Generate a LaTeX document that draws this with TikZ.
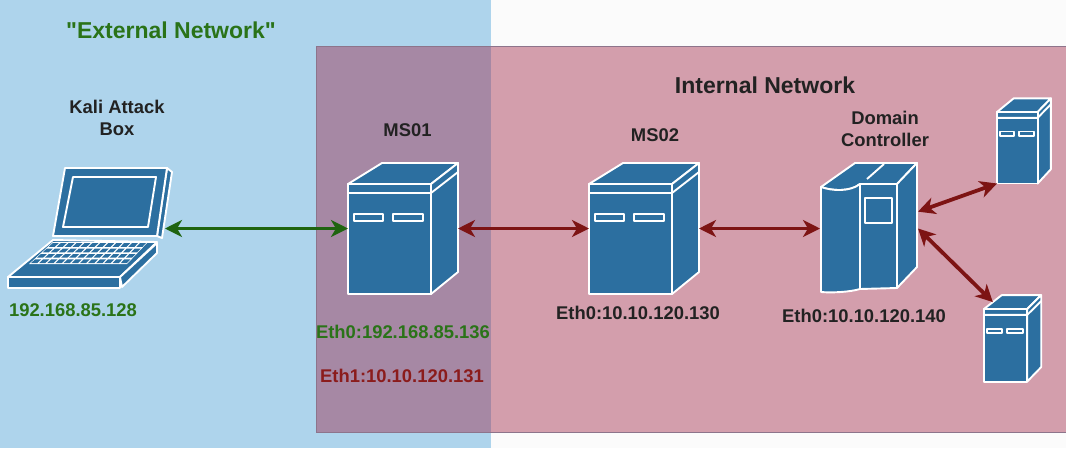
\documentclass[tikz,border=0pt]{standalone}
\usepackage{fontspec}
\setmainfont{Liberation Sans}
\newfontfamily\headfont{Liberation Sans}
\usetikzlibrary{arrows.meta}
\definecolor{extblue}{HTML}{AED4EC}
\definecolor{intred}{HTML}{D39EAC}
\definecolor{overlap}{HTML}{A688A4}
\definecolor{iconblue}{HTML}{2C6FA0}
\definecolor{netgreen}{HTML}{2A7318}
\definecolor{linkgreen}{HTML}{1F6410}
\definecolor{netred}{HTML}{8B1C1C}
\definecolor{linkred}{HTML}{7D1414}
\definecolor{netdark}{HTML}{222222}
\tikzset{
  icon/.style={draw=white,fill=iconblue,line width=1.9pt,line join=round},
  iconbox/.style={inner sep=0,outer sep=0,transform shape},
  caption/.style={font=\bfseries\fontsize{18.4}{22}\selectfont,align=center,text=netdark,inner sep=0},
  heading/.style={font=\headfont\bfseries\fontsize{23}{27}\selectfont,inner sep=0},
  greenlink/.style={<->,>={Stealth[length=17pt,width=17pt,inset=5pt]},color=linkgreen,line width=3.8pt},
  redlink/.style={<->,>={Stealth[length=17pt,width=17pt,inset=5pt]},color=linkred,line width=3.8pt},
  serverbox/.pic={
    \path[icon] (0,0) -- (34,-21) -- (110,-21) -- (83,0) -- cycle;
    \path[icon] (83,0) -- (110,-21) -- (110,88) -- (83,110) -- cycle;
    \path[icon] (0,0) rectangle (83,110);
    \draw[draw=white,line width=1.9pt] (0,9) -- (83,9) -- (110,-12);
    \path[icon] (6,30) rectangle (35,37);
    \path[icon] (45,30) rectangle (75,37);
    \node[iconbox,minimum width=110pt,minimum height=131pt] (-body) at (55,44.5) {};
    \coordinate (-foot) at (0,110);
    \coordinate (-eave) at (17,-10.5);
  }
}
\begin{document}
\begin{tikzpicture}[x=1pt,y=-1pt,
  declare function={keyx(\c,\h)=(53-(\h-242)*24/22)+\c/12*((148-(\h-242)*21/22)-(53-(\h-242)*24/22));}]
\useasboundingbox (0,0) rectangle (1066,448);
\fill[white!97!gray] (0,0) rectangle (1066,448);
\fill[extblue] (0,0) rectangle (491,448);
\fill[intred] (316,46) rectangle (1066,432);
\fill[overlap] (316,46) rectangle (491,432);
\draw[overlap!85!black,line width=.6pt] (316,432) -- (316,46) -- (1066,46);
\draw[overlap!85!black,line width=.6pt] (316,432) -- (1066,432);

\path[icon] (167,168) -- (172,172) -- (162,238) -- (157,236) -- cycle;
\path[icon] (65,168) -- (167,168) -- (157,236) -- (53,236) -- cycle;
\path[icon] (73,177) -- (156,177) -- (148,227) -- (63,227) -- cycle;
\path[icon] (53,240) -- (157,242) -- (120,277) -- (8,277) -- cycle;
\path[icon] (120,277) -- (157,243) -- (157,253) -- (122,287) -- cycle;
\path[icon] (8,277) rectangle (120,288);
\fill[white] (53,242) -- (148,242) -- (127,264) -- (29,264) -- cycle;
\foreach \row in {0,...,3}{
  \foreach \col in {0,...,11}{
    \pgfmathsetmacro{\ya}{243.2+\row*5.4}
    \pgfmathsetmacro{\yb}{\ya+3.7}
    \fill[iconblue] ({keyx(\col+.12,\ya)},\ya) -- ({keyx(\col+.88,\ya)},\ya)
      -- ({keyx(\col+.88,\yb)},\yb) -- ({keyx(\col+.12,\yb)},\yb) -- cycle;
  }
}
\node[iconbox,minimum width=157pt,minimum height=122pt] (kali) at (86.5,228.5) {};

\pic (ms01) at (348,184) {serverbox};
\pic (ms02) at (589,184) {serverbox};
\pic[xscale=.49,yscale=.65] (srva) at (997,112) {serverbox};
\pic[xscale=.52,yscale=.66] (srvb) at (984,309) {serverbox};

\path[icon] (855,163) -- (917,163) -- (897,184) -- (860,184) .. controls (850,192) and (832,191) .. (821,187) -- cycle;
\path[icon] (897,184) -- (917,163) -- (917,267) -- (897,288) -- cycle;
\path[icon] (860,184) -- (897,184) -- (897,288) -- (860,289) -- cycle;
\path[icon] (821,187) .. controls (832,191) and (850,192) .. (860,184) -- (860,289) .. controls (850,292) and (832,293) .. (821,292) -- cycle;
\draw[draw=white,line width=1.9pt] (867,179) -- (884,164);
\path[icon] (865,198) rectangle (892,223);
\node[iconbox,minimum width=98pt,minimum height=131pt] (dc) at (869,228.5) {};

\node[heading,text=netgreen] (extlabel) at (171,30) {"External Network"};
\node[heading,text=netdark] (intlabel) at (765,85) {Internal Network};
\node[caption] (kalilabel) at (117,118) {Kali Attack\\Box};
\node[caption] (ms01label) at (407.5,130) {MS01};
\node[caption] (ms02label) at (655,135) {MS02};
\node[caption] (dclabel) at (885,129) {Domain\\Controller};
\node[caption,text=netgreen] (kaliip) at (73,310) {192.168.85.128};
\node[caption,text=netgreen] (ms01eth0) at (403,332) {Eth0:192.168.85.136};
\node[caption,text=netred] (ms01eth1) at (402,376) {Eth1:10.10.120.131};
\node[caption] (ms02eth0) at (638,313) {Eth0:10.10.120.130};
\node[caption] (dceth0) at (864,316) {Eth0:10.10.120.140};

\path[greenlink] (kali.east) edge (ms01-body.west);
\path[redlink] (ms01-body.east) edge (ms02-body.west);
\path[redlink] (ms02-body.east) edge (dc.west);
\path[redlink] (dc.19) edge (srva-foot);
\path[redlink] (dc.east) edge (srvb-eave);
\end{tikzpicture}
\end{document}
